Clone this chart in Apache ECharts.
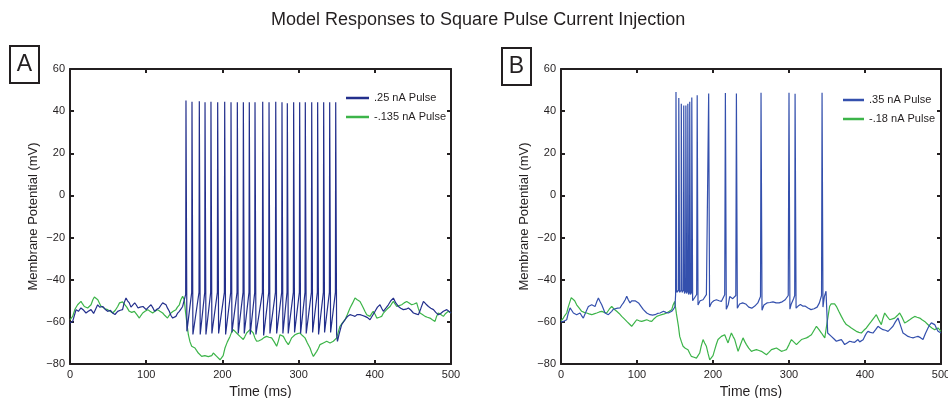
<!DOCTYPE html>
<html>
<head>
<meta charset="utf-8">
<script src="https://cdn.jsdelivr.net/npm/echarts@6/dist/echarts.min.js"></script>
<style>
  html, body { margin: 0; background: #fff; }
  #chart { width: 948px; height: 398px; }
</style>
</head>
<body>
<div id="chart"></div>
<script>
// traces: [time ms, membrane potential mV]
const blueA = [
  [0,-60.5],[3.5,-59.8],[8,-54.2],[11,-55],[14.4,-53.4],[18,-54.5],[21,-55.8],[24,-55],[27.6,-54.2],[31,-56],
  [36.3,-51.9],[39,-53],[42.9,-52.7],[46,-54],[49.4,-55],[53,-54.5],[56,-55.8],[59,-56.5],[62.6,-55],[66,-54.5],
  [69,-54.2],[71,-51],[73.5,-48.7],[75.5,-50],[77.8,-51],[80,-53],[82,-52.7],[84.9,-51],[87,-52],[89.3,-53.4],
  [92,-53],[95.8,-52.7],[98,-53.5],[100,-54.2],[103,-53],[106.3,-51.9],[109,-53.5],[111,-55],[114,-54],[117,-53.4],
  [119.5,-52],[121.6,-51],[124,-51.5],[126,-51.9],[128,-53.5],[130.3,-55],[132.5,-57],[134.7,-58.2],[137,-57.8],
  [139,-57.4],[141,-56],[143.5,-55],[145.5,-54],[147.8,-52.7],[150,-52],
  [151.8,-47],[152.2,45],[153.4,-64.5],[159.7,-46],[160.1,44.5],[161.3,-66],[169.3,-46],[169.7,44.7],[170.9,-66],
  [176.8,-46],[177.2,44.2],[178.4,-66],[184.6,-46],[185.0,44.5],[186.2,-65.5],[193.4,-46],[193.8,44.2],[195.0,-65.5],
  [202.6,-46],[203.0,44.5],[204.2,-66],[210.9,-46],[211.3,44.2],[212.5,-65],[219.2,-46],[219.6,44.2],[220.8,-65.5],
  [227.1,-46],[227.5,44.2],[228.7,-65.5],[234.9,-46],[235.3,44.2],[236.5,-66],[242.4,-46],[242.8,44.2],[244.0,-66],
  [252.5,-46],[252.9,44.5],[254.1,-66.5],[260.8,-46],[261.2,44.2],[262.4,-65.5],[269.6,-46],[270.0,44.5],[271.2,-65.5],
  [277.8,-46],[278.2,44.2],[279.4,-65.5],[284.8,-46],[285.2,43.8],[286.4,-65.5],[293.1,-46],[293.5,44.2],[294.7,-65],
  [301.0,-46],[301.4,44.2],[302.6,-65.5],[308.4,-46],[308.8,44.2],[310.0,-65.5],[316.8,-46],[317.2,44.2],[318.4,-65],
  [324.6,-46],[325.0,44.2],[326.2,-66],[332.5,-46],[332.9,44.2],[334.1,-65],[340.4,-46],[340.8,44.2],[342.0,-65],
  [348.3,-46],[348.7,44.2],[349.9,-66],[351,-69.3],
  [353,-66],[356.5,-61.3],[360.9,-59],[364,-57.5],[367.5,-56.6],[371,-57],[374,-57.4],[377,-56.5],[380.6,-56.6],
  [384,-57],[387.1,-57.4],[390.5,-58],[393.7,-59],[397,-57],[400.3,-55],[403.5,-53],[406.8,-51.9],[409,-53.5],
  [411.2,-55],[414.5,-53.5],[417.8,-51.9],[421,-50],[424.4,-48.7],[427.5,-51],[431,-52.7],[434,-53.5],[437.5,-54.2],
  [441,-54],[444.1,-53.4],[447.5,-54.5],[450.7,-55.8],[454,-56.2],[457.2,-56.6],[460.5,-53.5],[463.8,-50.3],
  [467,-51.5],[470.4,-52.7],[473.5,-53.5],[477,-54.2],[480,-55.5],[483.5,-56.6],[486.5,-56],[490,-55],[492,-54.5],
  [494.5,-54.2],[497,-55],[500,-55.8]
];

const greenA = [
  [0,-59],[3.5,-57.4],[6.5,-54],[10,-51.9],[12,-51],[14.4,-50.3],[16.5,-51.5],[18.8,-52.7],[21,-53],[23.2,-53.4],
  [25.5,-52.5],[27.6,-51.9],[30,-49.5],[32,-48.2],[34.1,-47.9],[36.5,-49.5],[38.5,-51],[40.5,-52.5],[42.9,-53.4],
  [46,-53.8],[49.4,-54.2],[52.5,-55],[56,-55.8],[59.5,-54.5],[62.6,-52.7],[65,-51],[66.9,-50.3],[69,-50.5],[71.3,-51],
  [74.5,-53],[77.8,-55],[81,-55.5],[84.4,-55],[87.5,-56.5],[91,-58.2],[93,-57],[95.4,-55.8],[98.5,-55],[102,-54.2],
  [105,-55],[108.5,-55.8],[111.5,-55],[115,-54.2],[118,-55],[121.6,-55.8],[124.5,-57],[128,-58.2],[130,-57],
  [132.5,-55.8],[135.5,-55],[139,-54.2],[141,-53],[143.5,-51.9],[145.5,-49.5],[147.8,-47.9],[150,-49.5],[151.5,-55],
  [153.1,-59.8],[155.3,-66.1],[157.5,-69.5],[159.7,-71.6],[162,-72],[164,-72.4],[166,-73.5],[168.4,-74.8],[170.5,-75.5],
  [172.8,-76.4],[175,-76.5],[177,-76],[179.4,-75.6],[181.5,-76.5],[183.7,-77.2],[186,-76],[188.1,-74.8],[190.5,-75.5],
  [192.5,-76.4],[195,-77.2],[196.9,-78],[199,-78.8],[201,-76],[203.4,-72.4],[206.5,-69.5],[210,-66.9],[212,-65],
  [214.3,-63.7],[216.5,-64.5],[218.6,-65.3],[221,-66],[223,-66.9],[225,-67.5],[227.4,-68.4],[229.5,-67],[231.8,-65.3],
  [234,-64.5],[236.2,-63.7],[238.5,-64.5],[240.5,-65.3],[242.5,-67.5],[244.9,-69.2],[248,-69],[251.5,-68.4],
  [254.5,-67.5],[258,-66.9],[261,-67.3],[264.6,-67.6],[268,-69.5],[271.2,-71.6],[273.5,-69],[275.6,-66.1],[278,-66.5],
  [280,-66.9],[283,-69],[286.5,-70.8],[288.5,-69.5],[290.9,-67.6],[293,-66.8],[295.3,-66.1],[298.5,-65.6],[301.8,-65.3],
  [305,-66.5],[308.4,-67.6],[311.5,-70],[315,-72.4],[317,-74.5],[319.4,-76.4],[321.5,-75.5],[323.8,-74],[326,-72.5],
  [328.1,-70.8],[330.5,-70.3],[332.5,-70],[335,-69.5],[336.9,-69.2],[339,-69.5],[341.3,-70],[343.5,-69.5],[345.6,-69.2],
  [348,-68.8],[350,-67.6],[352,-65],[354.3,-62.1],[357.5,-60.5],[360.9,-59],[364,-56.5],[367.5,-53.4],[371,-51],
  [374,-48.7],[377,-49.5],[380.6,-50.3],[383,-52],[385,-53.4],[387,-55],[389.4,-56.6],[391.5,-57],[393.7,-57.4],
  [396,-56],[398,-55],[400.5,-56.5],[402.6,-58.2],[406,-57.8],[409,-57.4],[411,-56],[413.4,-55],[416.5,-53.8],
  [420,-52.7],[422,-51.5],[424.4,-50.3],[426.5,-51.5],[428.8,-52.7],[432,-52.3],[435.3,-51.9],[438.5,-51],[441.9,-50.3],
  [445,-51],[448.4,-51.9],[451.5,-51.5],[455,-51],[457,-53.5],[459.3,-55.8],[462.5,-56.5],[466,-57.4],[469,-57.8],
  [472.4,-58.2],[475.5,-59],[479,-59.8],[481,-57.5],[483.4,-55.8],[486.5,-56.5],[490,-57.4],[493,-56],[496.5,-55],
  [500,-55.8]
];

const blueB = [
  [0,-60],[3.1,-59.8],[7.5,-59],[9.5,-56],[11.9,-53.4],[14,-54.5],[16.3,-55.8],[18.5,-56.5],[20.6,-56.6],[23,-56],
  [25,-55.8],[27,-57],[29.4,-58.2],[32.5,-55.5],[36,-52.7],[38,-52],[40.4,-51.9],[42.5,-52.5],[44.8,-52.7],[47,-50.5],
  [49.2,-48.7],[51.5,-50.5],[53.6,-51.9],[56,-54],[57.9,-55.8],[60,-56.3],[62.3,-56.6],[64.5,-55.8],[66.7,-55],
  [69,-54],[71.1,-53.4],[74.5,-53.5],[77.6,-53.4],[80,-52],[82.1,-51],[84.5,-49.5],[86.5,-47.9],[88.5,-49.5],
  [90.8,-51],[93,-50],[95.3,-49.5],[97.5,-50],[99.6,-50.3],[102,-51],[104,-51.9],[106,-53],[108.4,-54.2],[110.5,-55],
  [112.8,-55.8],[115,-56.2],[117.1,-56.6],[120.5,-56.8],[123.7,-56.6],[127,-56],[130.3,-55.8],[132.5,-55.3],
  [134.8,-55],[138,-55.5],[141.3,-55.8],[143.5,-55.3],[145.7,-55],[148,-54],[150,-52.7],
  [150.8,-47],[151.3,49.1],[152.3,-46],[154.7,-45],[155,46.2],[156,-46],[158,-45],[158.3,43.5],[159.3,-46],
  [161.2,-45],[161.5,42.7],[162.5,-46.5],[164,-45.5],[164.3,42.7],[165.3,-46.5],[166.6,-45.5],[166.9,43.5],
  [167.9,-47],[169.1,-46],[169.4,44.5],[170.4,-47],[171.8,-46],[172.1,46.5],[173.2,-50],[175.5,-49.5],[178.5,-47],
  [179.2,47.5],[180.3,-52],[183,-50],[186.9,-49.5],[191.3,-47.1],[194.3,48.4],[195.5,-53],[197.9,-51],[201,-50],
  [204.5,-49.5],[208,-50],[211,-50.3],[215.4,-47.1],[216.3,48.6],[217.5,-54],[220,-51.9],[222,-48],[226,-49],
  [230,-47.5],[230.8,48.4],[232,-53.5],[235,-51.5],[239,-51],[243,-51.5],[247,-53],[251,-53.5],[255,-52.5],
  [259,-51],[262.5,-48],[263.2,48.7],[264.5,-54.5],[267,-52],[271,-51],[275,-50.8],[279,-50.5],[283,-51],[287,-51],
  [291,-50.5],[295,-49.5],[299,-47.5],[300,48.7],[301.2,-54],[303,-51.5],[306,-49],[307.5,-47.5],[308,48.3],
  [309.3,-53.5],[312,-52.5],[315,-51.8],[318,-52.5],[321,-52.5],[325,-53.4],[329,-54.2],[333,-53.8],[337,-53],
  [340,-51],[342.8,-47.5],[343.5,48.7],[344.7,-53],[346.5,-48],[348.7,-45.5],[350.9,-65.3],[353.5,-66],
  [355.7,-66.9],[359,-68],[362.3,-69.2],[365.5,-68.8],[368.9,-68.4],[371,-69.5],[373.2,-70.8],[376.5,-70],
  [379.8,-69.2],[383,-69.5],[386.4,-69.7],[388.5,-69],[390.8,-68.4],[393,-69.5],[395.2,-70],[397.5,-68.5],
  [399.6,-66.9],[401.7,-65.5],[403.9,-64.5],[407,-65],[410.5,-65.3],[414,-63.7],[417.1,-62.1],[420.5,-63],
  [423.7,-63.7],[427,-64],[430.3,-64.5],[433.5,-63.3],[436.8,-62.1],[440,-60],[443.4,-58.2],[447,-62],[450,-65.3],
  [453,-66],[456.6,-66.9],[460,-67.3],[463.2,-67.6],[466.5,-67.2],[469.7,-66.9],[473,-67.5],[476.3,-68.4],
  [479.5,-65.5],[482.9,-62.9],[485,-61.5],[487.3,-60.5],[489.5,-61],[491.7,-61.3],[494,-63],[496.1,-64.5],[500,-65.3]
];

const greenB = [
  [0,-59.5],[3.1,-58.2],[5,-57],[7.5,-55.8],[9.5,-53],[11.9,-50.3],[13.5,-48.5],[15.4,-47.9],[18,-50],[20.6,-51.9],
  [24,-53.5],[27.2,-55],[30.5,-55.5],[33.8,-55.8],[37,-56.2],[40.4,-56.6],[43.5,-56.2],[47,-55.8],[50.5,-55.3],
  [53.6,-55],[57,-55.5],[60.1,-55.8],[63.5,-54],[66.7,-52.7],[70,-54],[73.3,-55],[76.5,-56],[79.9,-57.4],[83,-58.5],
  [86.5,-59.8],[90,-61],[93,-62.1],[96.5,-60.5],[99.6,-59],[103,-59.5],[106.2,-59.8],[109.5,-59.4],[112.8,-59],
  [116,-59.5],[119.4,-59.8],[122.5,-58.5],[126,-57.4],[129,-57],[132.5,-56.6],[136,-56.2],[139.1,-55.8],[142.5,-55],
  [145.7,-54.2],[147.5,-52],[149.6,-50.3],[151.8,-56],[154.5,-62],[156.2,-66.9],[158.5,-69.5],[160.6,-71.6],
  [163.5,-72.5],[167.1,-73.2],[169.5,-75],[171.6,-76.4],[175,-76.8],[178.2,-77.2],[180.3,-76],[182.5,-74.8],
  [184.5,-71.5],[186.9,-68.4],[189,-70],[191.3,-71.6],[193.5,-75],[195.7,-78],[197.9,-78.8],[200,-76],[202.3,-73.2],
  [204.5,-70.5],[206.6,-68.4],[209,-67.5],[211,-66.9],[213,-66.5],[215.4,-66.1],[217.5,-68],[219.8,-70],[222,-67.5],
  [224.2,-65.3],[226.5,-67],[228.6,-68.4],[231,-71.5],[233,-74],[236,-71],[239.5,-67.6],[242,-69.5],[244,-70.8],
  [247,-72.5],[250.6,-74],[254,-73.5],[257.1,-73.2],[260.5,-73.6],[263.7,-74],[267,-74.8],[270.3,-75.6],[273.5,-74.5],
  [276.9,-73.2],[280,-72.8],[283.5,-72.4],[287,-73.2],[290,-74],[293.5,-73.6],[296.6,-73.2],[300,-70.8],[303.2,-68.4],
  [306.5,-69.6],[309.8,-70.8],[313,-69.6],[316.4,-68.4],[319.5,-68],[323,-67.6],[326,-67],[329.5,-66.1],[333,-64],
  [336.1,-62.1],[339.5,-63.7],[342.7,-65.3],[345,-66.5],[347.1,-67.6],[349,-63],[351.4,-57.4],[353.5,-52.6],
  [355.5,-51.5],[357.9,-51],[360,-51.5],[362.3,-52.6],[365.5,-55],[368.9,-57.4],[372,-59.5],[375.4,-61.3],[378.5,-62],
  [382,-62.9],[385.5,-63.7],[388.6,-64.5],[392,-65],[395.2,-65.3],[398.5,-64],[401.8,-62.9],[405,-61.3],[408.3,-59.8],
  [411.5,-58.2],[414.9,-56.6],[418,-59],[421.5,-61.3],[423.5,-58.5],[425.9,-55.8],[429,-57.4],[432.5,-59],[436,-58.6],
  [439,-58.2],[442.5,-57],[445.6,-55.8],[449,-58],[452.2,-60.5],[455.5,-59.8],[458.8,-59],[462,-58.2],[465.4,-57.4],
  [468.5,-57.8],[472,-58.2],[475,-59],[478.5,-59.8],[482,-61],[485.1,-62.1],[488.5,-63],[491.7,-63.7],[494,-63.3],
  [496.1,-62.9],[500,-64.5]
];

const namesA = ['.25 nA Pulse', '-.135 nA Pulse'];
const namesB = ['.35 nA Pulse', '-.18 nA Pulse'];
const panelLetters = ['A', 'B'];

const font = '"Liberation Sans", Arial, Helvetica, sans-serif';
const ink = '#231f20';
const greenColor = '#3cb449';
const navyColor = '#232f8c';
const royalColor = '#3450ad';

function xAxes(grid) {
  const base = {
    gridIndex: grid, type: 'value', min: 0, max: 500, interval: 100,
    axisLine: { show: true, onZero: false, lineStyle: { color: ink, width: 2 } },
    axisTick: { show: true, inside: true, length: 4, lineStyle: { color: ink, width: 2 } },
    splitLine: { show: false }
  };
  return [
    Object.assign({}, base, {
      position: 'bottom',
      axisLabel: { color: ink, fontSize: 11, fontFamily: font, margin: 5 },
      name: 'Time (ms)', nameLocation: 'middle', nameGap: 18,
      nameTextStyle: { color: ink, fontSize: 14, fontFamily: font }
    }),
    Object.assign({}, base, { position: 'top', axisLabel: { show: false } })
  ];
}

function yAxes(grid) {
  const base = {
    gridIndex: grid, type: 'value', min: -80, max: 60, interval: 20,
    axisLine: { show: true, onZero: false, lineStyle: { color: ink, width: 2 } },
    axisTick: { show: true, inside: true, length: 4, lineStyle: { color: ink, width: 2 } },
    splitLine: { show: false }
  };
  return [
    Object.assign({}, base, {
      position: 'left',
      axisLabel: {
        color: ink, fontSize: 11, fontFamily: font, margin: 5,
        formatter: (v) => String(v).replace('-', '\u2212')
      },
      name: 'Membrane Potential (mV)', nameLocation: 'middle', nameGap: 30,
      nameTextStyle: { color: ink, fontSize: 13, fontFamily: font }
    }),
    Object.assign({}, base, { position: 'right', axisLabel: { show: false } })
  ];
}

function trace(name, data, color, axis) {
  return {
    name: name, type: 'line', data: data,
    xAxisIndex: axis, yAxisIndex: axis,
    symbol: 'none', showSymbol: false,
    lineStyle: { color: color, width: 1.2 },
    itemStyle: { color: color },
    animation: false
  };
}

function legendAt(names, left, top, width) {
  return {
    data: names, left: left, top: top, orient: 'vertical',
    icon: 'rect', itemWidth: width, itemHeight: 2.5, itemGap: 5,
    textStyle: { color: ink, fontSize: 11, fontFamily: font, lineHeight: 14 },
    selectedMode: false
  };
}

function letterBox(letter, x, y) {
  return {
    type: 'group', left: x, top: y,
    children: [
      { type: 'rect', shape: { x: 0, y: 0, width: 29, height: 37 },
        style: { fill: '#fff', stroke: ink, lineWidth: 2 } },
      { type: 'text', x: 14.5, y: 19,
        style: { text: letter, fill: ink, fontSize: 23, fontFamily: font, align: 'center', verticalAlign: 'middle' } }
    ]
  };
}

const chart = echarts.init(document.getElementById('chart'));
chart.setOption({
  backgroundColor: '#fff',
  animation: false,
  title: {
    text: 'Model Responses to Square Pulse Current Injection',
    left: 266, top: 6,
    textStyle: { color: ink, fontSize: 18, fontWeight: 'normal', fontFamily: font }
  },
  grid: [
    { left: 70, top: 69, width: 381, height: 295, outerBoundsMode: 'none' },
    { left: 561, top: 69, width: 380, height: 295, outerBoundsMode: 'none' }
  ],
  xAxis: xAxes(0).concat(xAxes(1)),
  yAxis: yAxes(0).concat(yAxes(1)),
  legend: [legendAt(namesA, 341, 86, 23), legendAt(namesB, 838, 88, 21)],
  graphic: [letterBox(panelLetters[0], 9, 45), letterBox(panelLetters[1], 501, 47)],
  series: [
    trace(namesA[1], greenA, greenColor, 0),
    trace(namesA[0], blueA, navyColor, 0),
    trace(namesB[1], greenB, greenColor, 2),
    trace(namesB[0], blueB, royalColor, 2)
  ]
});
</script>
</body>
</html>
